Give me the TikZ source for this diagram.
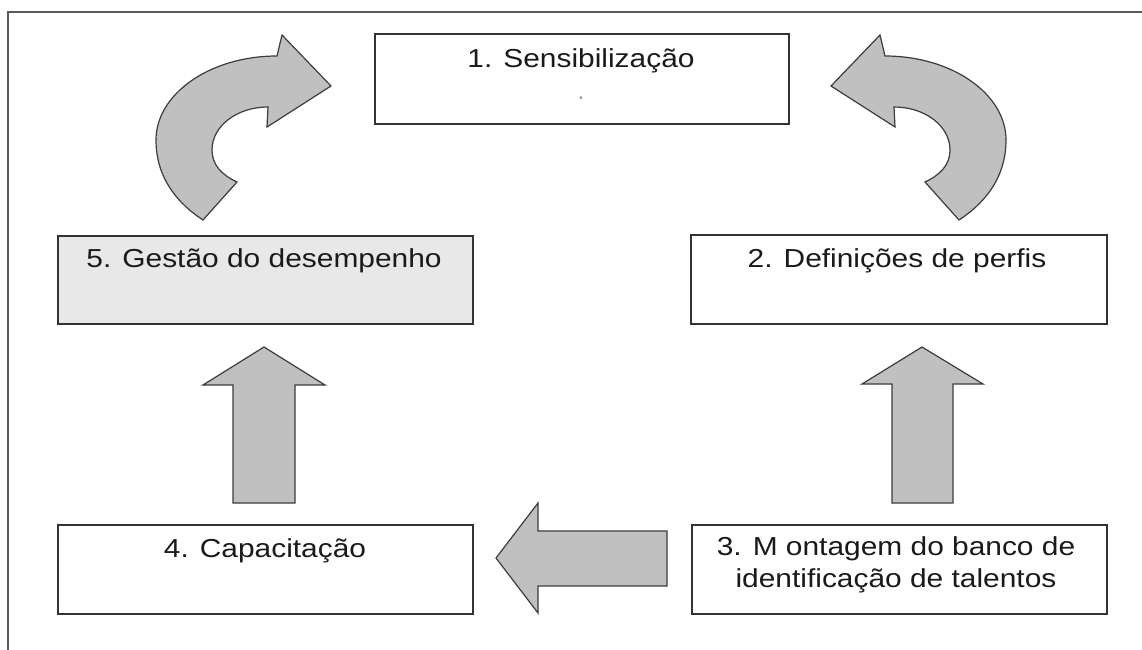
\documentclass[tikz,border=0pt]{standalone}
\usepackage{fontspec}
\setmainfont{Liberation Sans}
\definecolor{boxline}{HTML}{333333}
\definecolor{arrline}{HTML}{3C3C3C}
\definecolor{arrfill}{HTML}{C0C0C0}
\definecolor{lightfill}{HTML}{E8E8E8}
\definecolor{frameline}{HTML}{5A5A5A}
\definecolor{txt}{HTML}{1A1A1A}
\newcommand\wtxt[1]{\scalebox{1.15}[1]{#1}}
\begin{document}
\begin{tikzpicture}[x=1bp,y=-1bp,
  box/.style={draw=boxline, line width=1.6bp, fill=white, rectangle, inner sep=0pt, anchor=north west},
  blockarrow/.style={draw=arrline, line width=1.2bp, fill=arrfill, line join=miter},
  lbl/.style={font=\fontsize{26bp}{32bp}\selectfont, text=txt, anchor=base, inner sep=0pt},
  frame/.style={draw=frameline, line width=2.5bp}]
\useasboundingbox (0,0) rectangle (1142,650);
\fill[white] (0,0) rectangle (1142,650);
% frame (top and left only visible)
\coordinate (fa) at (8,650);
\coordinate (fb) at (8,12);
\coordinate (fc) at (1142,12);
\draw[frame] (fa) -- (fb) -- (fc);

% boxes
\node (b1) [box, minimum width=414bp, minimum height=90bp] at (374,33) {};
\node (b2) [box, minimum width=416bp, minimum height=89bp] at (690,234) {};
\node (b3) [box, minimum width=415bp, minimum height=89bp] at (691,524) {};
\node (b4) [box, minimum width=415bp, minimum height=89bp] at (57,524) {};
\node (b5) [box, fill=lightfill, minimum width=415bp, minimum height=88bp] at (57,235) {};

% labels
\node (t1) [lbl] at (581,68) {\wtxt{1. Sensibilização}};
\node (t1b) [lbl, text=black!35] at (581,100) {.};
\node (t2) [lbl] at (897,267) {\wtxt{2. Definições de perfis}};
\node (t3a) [lbl] at (896,555) {\wtxt{3. M ontagem do banco de}};
\node (t3b) [lbl] at (896,587) {\wtxt{identificação de talentos}};
\node (t4) [lbl] at (265,557) {\wtxt{4. Capacitação}};
\node (t5) [lbl] at (264,267) {\wtxt{5. Gestão do desempenho}};

% straight block arrows
\draw[blockarrow] (233,503) -- (233,385) -- (203,385) -- (264,347) -- (325,385) -- (295,385) -- (295,503) -- cycle;
\draw[blockarrow] (892,503) -- (892,384) -- (862,384) -- (922,347) -- (983,384) -- (953,384) -- (953,503) -- cycle;
\draw[blockarrow] (667,531) -- (538,531) -- (538,503) -- (496,558) -- (538,613) -- (538,586) -- (667,586) -- cycle;

% curved block arrows
\draw[blockarrow] (277,56) -- (282,35) -- (331,86) -- (267,127) -- (268,107)
  .. controls (237,107) and (212,126) .. (212,150)
  .. controls (212,165) and (222,175) .. (237,182) -- (203,220)
  .. controls (180,205) and (156,180) .. (156,140)
  .. controls (156,94) and (210,56) .. (277,56) -- cycle;
\begin{scope}[shift={(1162,0)}, xscale=-1]
\draw[blockarrow] (277,56) -- (282,35) -- (331,86) -- (267,127) -- (268,107)
  .. controls (237,107) and (212,126) .. (212,150)
  .. controls (212,165) and (222,175) .. (237,182) -- (203,220)
  .. controls (180,205) and (156,180) .. (156,140)
  .. controls (156,94) and (210,56) .. (277,56) -- cycle;
\end{scope}
\end{tikzpicture}
\end{document}
